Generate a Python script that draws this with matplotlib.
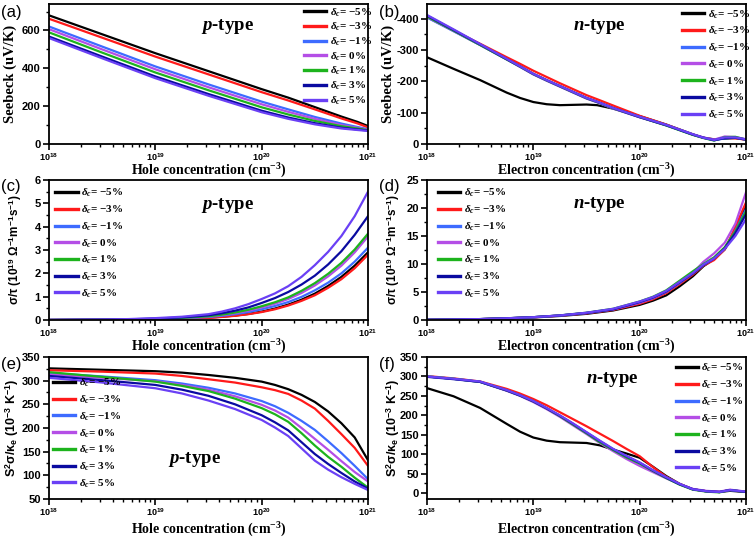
import numpy as np
import matplotlib
matplotlib.use('Agg')
import matplotlib.pyplot as plt
from matplotlib.ticker import FuncFormatter, AutoMinorLocator, LogLocator, NullFormatter

plt.rcParams['mathtext.fontset'] = 'custom'
plt.rcParams['mathtext.rm'] = 'Liberation Serif:bold'
plt.rcParams['mathtext.it'] = 'Liberation Serif:bold:italic'
plt.rcParams['mathtext.bf'] = 'Liberation Sans:bold'
plt.rcParams['mathtext.sf'] = 'Liberation Sans:bold'

# strain labels and colours
strains = ['\u22125%', '\u22123%', '\u22121%', '0%', '1%', '3%', '5%']
colors = ['#000000', '#ff1a1a', '#3d6bff', '#b44ee6', '#1db31d', '#0a0aa0', '#6a40f5']

# (a) p-type Seebeck, x = log10(p)
xa = [18, 18.5, 19, 19.5, 20, 20.25, 20.5, 20.75, 20.9, 21]
seebeck_p = [
    [680, 580, 480, 385, 290, 245, 195, 145, 117, 95],
    [662, 562, 462, 368, 274, 230, 183, 135, 109, 88],
    [621, 515, 410, 315, 224, 183, 143, 108, 90, 78],
    [607, 500, 395, 300, 210, 170, 133, 100, 86, 75],
    [590, 483, 378, 284, 194, 156, 122, 94, 82, 73],
    [568, 462, 357, 264, 176, 140, 110, 86, 77, 71],
    [560, 453, 348, 255, 168, 133, 104, 82, 74, 69],
]

# (b) n-type Seebeck (plotted as |S|)
xb = [18, 18.25, 18.5, 18.75, 18.875, 19, 19.125, 19.25, 19.5, 19.6, 19.75, 20, 20.25,
      20.5, 20.6, 20.7, 20.8, 20.9, 21]
seebeck_n = [
    [277, 240, 204, 164, 147, 134, 127, 124, 126, 124, 113, 89, 62, 31, 20, 15, 17, 19, 14],
    [405, 362, 320, 277, 256, 234, 214, 194, 156, 143, 123, 90, 62, 30, 20, 14, 20, 18, 14],
    [404, 360, 316, 270, 247, 223, 203, 184, 146, 134, 114, 86, 60, 30, 20, 12, 18, 20, 14],
    [406, 361, 316, 270, 246, 222, 202, 183, 145, 133, 113, 85, 60, 31, 21, 14, 24, 22, 15],
    [407, 362, 316, 270, 247, 223, 203, 184, 146, 134, 114, 86, 59, 29, 19, 11, 22, 23, 14],
    [410, 364, 318, 271, 248, 224, 204, 185, 147, 135, 115, 86, 60, 30, 20, 12, 19, 20, 14],
    [412, 366, 319, 272, 248, 224, 204, 185, 147, 135, 115, 87, 61, 31, 20, 13, 21, 21, 15],
]

# (c) p-type sigma/tau (1e19)
xc = [18, 18.5, 18.75, 19, 19.25, 19.5, 19.625, 19.75, 19.875, 20, 20.125, 20.25, 20.375,
      20.5, 20.625, 20.75, 20.875, 21]
sigma_p = [
    [0.001, 0.008, 0.015, 0.03, 0.055, 0.10, 0.14, 0.19, 0.26, 0.36, 0.49, 0.66, 0.87, 1.13, 1.46, 1.85, 2.33, 2.90],
    [0.001, 0.008, 0.015, 0.03, 0.05, 0.09, 0.13, 0.18, 0.25, 0.34, 0.46, 0.62, 0.82, 1.06, 1.38, 1.75, 2.22, 2.80],
    [0.001, 0.010, 0.020, 0.04, 0.07, 0.13, 0.18, 0.25, 0.34, 0.46, 0.60, 0.77, 0.99, 1.27, 1.60, 2.00, 2.50, 3.10],
    [0.001, 0.011, 0.022, 0.045, 0.08, 0.15, 0.21, 0.29, 0.40, 0.54, 0.70, 0.90, 1.16, 1.48, 1.87, 2.33, 2.90, 3.58],
    [0.001, 0.012, 0.025, 0.05, 0.09, 0.16, 0.23, 0.32, 0.44, 0.59, 0.76, 0.97, 1.25, 1.58, 1.98, 2.45, 3.02, 3.70],
    [0.002, 0.015, 0.030, 0.06, 0.11, 0.20, 0.29, 0.40, 0.54, 0.73, 0.94, 1.20, 1.52, 1.90, 2.38, 2.95, 3.65, 4.45],
    [0.002, 0.020, 0.040, 0.08, 0.14, 0.25, 0.36, 0.50, 0.68, 0.90, 1.14, 1.45, 1.85, 2.35, 2.92, 3.60, 4.45, 5.50],
]

# (d) n-type sigma/tau (1e19)
xd = [18, 18.5, 18.75, 19, 19.25, 19.5, 19.75, 20, 20.125, 20.25, 20.375, 20.5, 20.6, 20.7,
      20.8, 20.9, 21]
sigma_n = [
    [0.03, 0.15, 0.28, 0.45, 0.72, 1.10, 1.70, 2.7, 3.45, 4.4, 6.0, 7.8, 9.6, 10.9, 12.6, 15.8, 20.4],
    [0.03, 0.15, 0.29, 0.48, 0.78, 1.20, 1.80, 2.9, 3.70, 4.8, 6.4, 8.1, 9.7, 10.7, 12.6, 16.6, 21.0],
    [0.03, 0.16, 0.30, 0.50, 0.80, 1.25, 1.90, 3.1, 3.90, 5.0, 6.6, 8.3, 9.8, 11.0, 12.8, 15.9, 19.8],
    [0.03, 0.16, 0.30, 0.50, 0.80, 1.25, 1.90, 3.1, 3.95, 5.1, 6.7, 8.4, 10.4, 11.9, 13.8, 17.2, 22.8],
    [0.03, 0.16, 0.31, 0.50, 0.82, 1.30, 2.00, 3.3, 4.15, 5.3, 7.0, 8.7, 10.0, 11.2, 13.0, 15.8, 19.4],
    [0.03, 0.16, 0.30, 0.50, 0.80, 1.25, 1.90, 3.2, 4.00, 5.1, 6.7, 8.3, 9.8, 11.0, 12.8, 15.5, 18.9],
    [0.03, 0.16, 0.31, 0.50, 0.82, 1.30, 2.00, 3.3, 4.10, 5.2, 6.8, 8.4, 9.9, 11.0, 12.7, 15.0, 18.0],
]

# (e) p-type S^2 sigma / kappa_e (1e-3 1/K)
xe = [18, 18.5, 19, 19.25, 19.5, 19.75, 20, 20.125, 20.25, 20.375, 20.5, 20.625, 20.75,
      20.875, 21]
ratio_p = [
    [326, 323, 320, 317, 312, 306, 298, 291, 282, 270, 255, 235, 210, 180, 132],
    [322, 319, 315, 310, 303, 296, 286, 280, 272, 258, 241, 215, 187, 158, 120],
    [316, 309, 301, 294, 285, 273, 257, 246, 232, 215, 196, 172, 147, 120, 92],
    [313, 306, 299, 291, 281, 267, 249, 237, 222, 200, 177, 154, 130, 107, 87],
    [318, 308, 298, 289, 278, 262, 242, 229, 213, 189, 163, 139, 118, 95, 74],
    [310, 301, 291, 281, 268, 250, 227, 212, 195, 170, 145, 124, 105, 87, 72],
    [306, 296, 284, 273, 258, 240, 217, 201, 183, 157, 131, 112, 96, 82, 69],
]

# (f) n-type S^2 sigma / kappa_e
xf = [18, 18.25, 18.5, 18.75, 18.875, 19, 19.125, 19.25, 19.375, 19.5, 19.625, 19.75,
      19.875, 20, 20.125, 20.25, 20.375, 20.5, 20.625, 20.75, 20.85, 21]
ratio_n = [
    [270, 249, 219, 178, 158, 143, 135, 131, 130, 129, 123, 112, 102, 91, 68, 44, 24, 10, 5, 3, 6, 3],
    [301, 295, 287, 268, 256, 242, 226, 208, 190, 172, 153, 134, 114, 95, 67, 42, 24, 10, 5, 3, 8, 3],
    [300, 294, 286, 264, 251, 236, 218, 198, 177, 155, 133, 112, 94, 78, 58, 40, 23, 10, 5, 3, 8, 3],
    [300, 294, 286, 263, 250, 234, 216, 196, 174, 152, 129, 108, 88, 70, 54, 38, 23, 11, 6, 4, 9, 4],
    [300, 294, 286, 264, 251, 236, 218, 198, 176, 154, 131, 111, 92, 76, 57, 39, 22, 9, 4, 2, 8, 3],
    [299, 293, 286, 264, 251, 236, 218, 199, 178, 156, 134, 113, 95, 78, 58, 40, 23, 10, 5, 3, 8, 3],
    [300, 294, 287, 265, 252, 237, 219, 200, 179, 157, 135, 114, 96, 79, 59, 41, 24, 10, 5, 3, 8, 4],
]

SERIF = 'Liberation Serif'
SANS = 'Liberation Sans'


def xfmt(v, pos):
    e = int(round(np.log10(v)))
    return r'$\mathbf{10^{%d}}$' % e


def setup(ax, ylim, ymajor, xlabel, ylabel, ylab_serif, xlab_y, ylab_x, ylab_size=9, neg=False):
    ax.set_xscale('log')
    ax.set_xlim(1e18, 1e21)
    ax.set_ylim(*ylim)
    ax.set_yticks(ymajor)
    ax.yaxis.set_minor_locator(AutoMinorLocator(2))
    ax.xaxis.set_major_locator(LogLocator(base=10, numticks=10))
    ax.xaxis.set_minor_locator(LogLocator(base=10, subs=np.arange(2, 10), numticks=20))
    ax.xaxis.set_minor_formatter(NullFormatter())
    ax.xaxis.set_major_formatter(FuncFormatter(xfmt))
    if neg:
        ax.yaxis.set_major_formatter(FuncFormatter(lambda v, p: '0' if v == 0 else '-%d' % v))
    ax.tick_params(which='major', direction='out', length=4, width=1.2, pad=2)
    ax.tick_params(axis='y', which='major', labelsize=8)
    ax.tick_params(axis='x', which='major', labelsize=6.5, pad=1)
    ax.tick_params(which='minor', direction='out', length=2.2, width=1.0)
    for lab in ax.get_yticklabels():
        lab.set_fontfamily(SANS)
        lab.set_fontweight('bold')
    for s in ax.spines.values():
        s.set_linewidth(1.3)
    xl = ax.set_xlabel(xlabel, fontfamily=SERIF, fontweight='bold', fontsize=10)
    xl.set_va('top')
    ax.xaxis.set_label_coords(0.5, xlab_y)
    if ylab_serif:
        yl = ax.set_ylabel(ylabel, fontfamily=SERIF, fontweight='bold', fontsize=10.5)
    else:
        yl = ax.set_ylabel(ylabel, fontfamily=SANS, fontweight='bold', fontsize=ylab_size)
    yl.set_va('center')
    ax.yaxis.set_label_coords(ylab_x, 0.5)


def draw(ax, x, series, lw=1.6):
    xs = 10 ** np.array(x, dtype=float)
    for vals, c, s in zip(series, colors, strains):
        ax.plot(xs, vals, color=c, lw=lw, label=r'$\delta_c$= ' + s)


def legend(ax, anchor, spacing=0.38):
    leg = ax.legend(loc='upper left', bbox_to_anchor=anchor, frameon=False,
                    borderpad=0, borderaxespad=0, handlelength=2.0, handletextpad=0.3,
                    labelspacing=spacing, prop={'family': SERIF, 'weight': 'bold', 'size': 8})
    for h in leg.get_lines():
        h.set_linewidth(2.4)
    return leg


def tag(ax, x, y, txt):
    ax.text(x, y, txt, transform=ax.transAxes, ha='center', va='center',
            fontfamily=SERIF, fontweight='bold', fontsize=13.5)


fig = plt.figure(figsize=(7.56, 5.4), dpi=100)
W, H = 756.0, 540.0


def rect(l, r, t, b):
    return [l / W, 1 - b / H, (r - l) / W, (b - t) / H]


axa = fig.add_axes(rect(49, 368, 4, 144))
axb = fig.add_axes(rect(427, 746, 4, 144))
axc = fig.add_axes(rect(49, 368, 180, 320))
axd = fig.add_axes(rect(427, 746, 180, 320))
axe = fig.add_axes(rect(49, 368, 357, 499))
axf = fig.add_axes(rect(427, 746, 357, 499))

hole = r'Hole concentration (cm$^{-3}$)'
elec = r'Electron concentration (cm$^{-3}$)'
sig_lab = r'σ/τ (10$^{\mathbf{19}}$ Ω$^{\mathbf{-1}}$m$^{\mathbf{-1}}$s$^{\mathbf{-1}}$)'
rat_lab = r'S$^{\mathbf{2}}$σ/κ$_{\mathbf{e}}$ (10$^{\mathbf{-3}}$ K$^{\mathbf{-1}}$)'

draw(axa, xa, seebeck_p)
setup(axa, (0, 740), [0, 200, 400, 600], hole, 'Seebeck (uV/K)', True, -0.125, -0.122)
legend(axa, (0.80, 0.985), spacing=0.2)
tag(axa, 0.56, 0.84, r'$p$-type')

draw(axb, xb, seebeck_n)
setup(axb, (0, 447), [0, 100, 200, 300, 400], elec, 'Seebeck (uV/K)', True, -0.125, -0.122,
      neg=True)
legend(axb, (0.80, 0.97))
tag(axb, 0.54, 0.84, r'$n$-type')

draw(axc, xc, sigma_p)
setup(axc, (0, 6), [0, 1, 2, 3, 4, 5, 6], hole, sig_lab, False, -0.13, -0.107, ylab_size=8.5)
legend(axc, (0.02, 0.95))
tag(axc, 0.56, 0.82, r'$p$-type')

draw(axd, xd, sigma_n)
setup(axd, (0, 25), [0, 5, 10, 15, 20, 25], elec, sig_lab, False, -0.13, -0.107, ylab_size=8.5)
legend(axd, (0.035, 0.95))
tag(axd, 0.54, 0.825, r'$n$-type')

draw(axe, xe, ratio_p)
setup(axe, (50, 350), [50, 100, 150, 200, 250, 300, 350], hole, rat_lab, False, -0.155, -0.116)
legend(axe, (0.013, 0.86))
tag(axe, 0.455, 0.275, r'$p$-type')

draw(axf, xf, ratio_n)
setup(axf, (-15, 350), [0, 50, 100, 150, 200, 250, 300, 350], elec, rat_lab, False, -0.155,
      -0.107)
legend(axf, (0.78, 0.965))
tag(axf, 0.58, 0.84, r'$n$-type')

for lab, y in zip(['(a)', '(b)', '(c)', '(d)', '(e)', '(f)'], [12, 12, 187, 187, 364, 364]):
    xpos = 1 if lab in ('(a)', '(c)', '(e)') else 379
    fig.text(xpos / W, 1 - y / H, lab, fontfamily=SANS, fontsize=12, ha='left', va='center')

fig.savefig('out.png', dpi=100)
